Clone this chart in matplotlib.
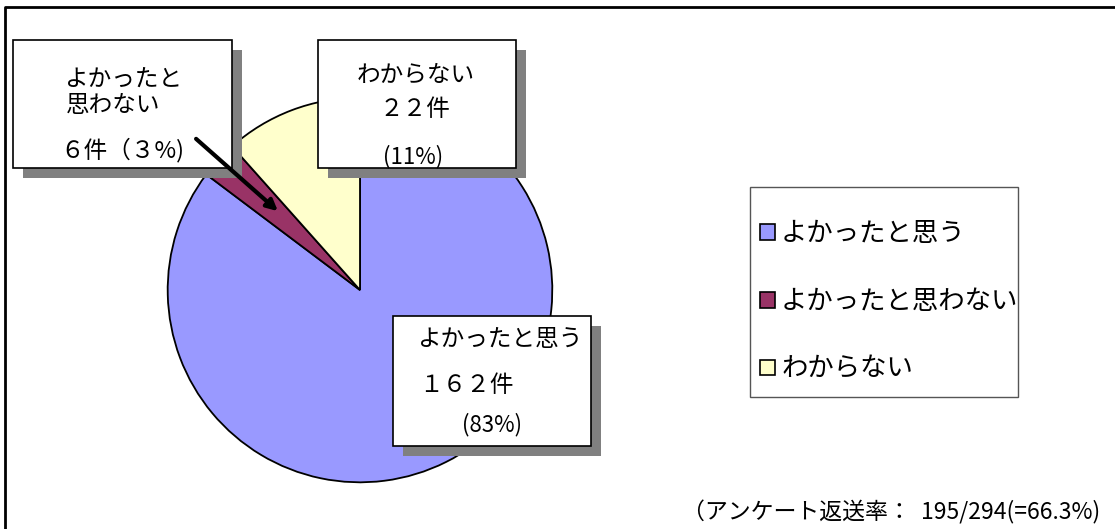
import matplotlib.pyplot as plt
from matplotlib.patches import Rectangle

plt.rcParams['font.family'] = ['Noto Sans CJK JP', 'DejaVu Sans']

# data
categories = ['よかったと思う', 'よかったと思わない', 'わからない']
counts = [162, 6, 22]
count_labels = ['１６２件', '６件', '２２件']
pct_labels = ['(83%)', '（３%)', '(11%)']
colors = ['#9999FF', '#993366', '#FFFFCC']
note = '（アンケート返送率：  195/294(=66.3%)'

W, H = 1115, 529
fig = plt.figure(figsize=(W / 100, H / 100), dpi=100)

# pie axes: centre at (360, 290) px, radius ~192 px
ax = fig.add_axes([160 / W, (H - 290 - 200) / H, 400 / W, 400 / H])
wedges, _ = ax.pie(counts, colors=colors, startangle=90, counterclock=False,
                   wedgeprops=dict(edgecolor='black', linewidth=1.3))
ax.set_xlim(-1.04, 1.04)
ax.set_ylim(-1.04, 1.04)
ax.set_aspect('equal')

# overlay in pixel coordinates for frame, label boxes, arrow
ov = fig.add_axes([0, 0, 1, 1], zorder=5)
ov.set_xlim(0, W)
ov.set_ylim(H, 0)
ov.axis('off')
ov.patch.set_alpha(0)

# outer frame (left and top lines)
ov.plot([5, 5, W], [H, 7, 7], color='black', lw=2)


def label_box(x0, y0, x1, y1):
    ov.add_patch(Rectangle((x0 + 10, y0 + 10), x1 - x0, y1 - y0,
                           facecolor='#808080', edgecolor='none'))
    ov.add_patch(Rectangle((x0, y0), x1 - x0, y1 - y0,
                           facecolor='white', edgecolor='black', lw=1.2))


fs = 17

# よかったと思わない
label_box(13, 40, 232, 168)
ov.text(64, 80, 'よかったと', fontsize=fs, va='center', ha='left')
ov.text(66, 106, '思わない', fontsize=fs, va='center', ha='left')
ov.text(60, 150, count_labels[1] + pct_labels[1], fontsize=fs,
        va='center', ha='left')

# わからない
label_box(318, 40, 516, 168)
ov.text(416, 75, categories[2], fontsize=fs, va='center', ha='center')
ov.text(415, 110, count_labels[2], fontsize=fs, va='center', ha='center')
ov.text(413, 157, pct_labels[2], fontsize=16, va='center', ha='center')

# よかったと思う
label_box(393, 316, 591, 446)
ov.text(417, 340, categories[0], fontsize=fs, va='center', ha='left')
ov.text(419, 385, count_labels[0], fontsize=fs, va='center', ha='left')
ov.text(492, 425, pct_labels[0], fontsize=16, va='center', ha='center')

# arrow to the small slice
ov.annotate('', xy=(280, 213), xytext=(194, 137),
            arrowprops=dict(arrowstyle='-|>', color='black', lw=3,
                            mutation_scale=16))

# footnote
ov.text(1100, 512, note, fontsize=16.5, va='center', ha='right')

# legend frame drawn separately so it keeps the reference size
ov.add_patch(Rectangle((750, 187), 268, 210, facecolor='white',
                       edgecolor='#555555', lw=1, zorder=0))
leg = fig.legend(wedges, categories, loc='upper left',
                 bbox_to_anchor=(760 / W, 1 - 220 / H),
                 fontsize=19, frameon=False,
                 handlelength=0.55, handleheight=0.55,
                 handletextpad=0.25, labelspacing=1.55, borderpad=0,
                 borderaxespad=0)
leg.set_zorder(10)
for h in leg.legend_handles:
    h.set_edgecolor('black')
    h.set_linewidth(1.2)

fig.savefig('out.png', dpi=100)
